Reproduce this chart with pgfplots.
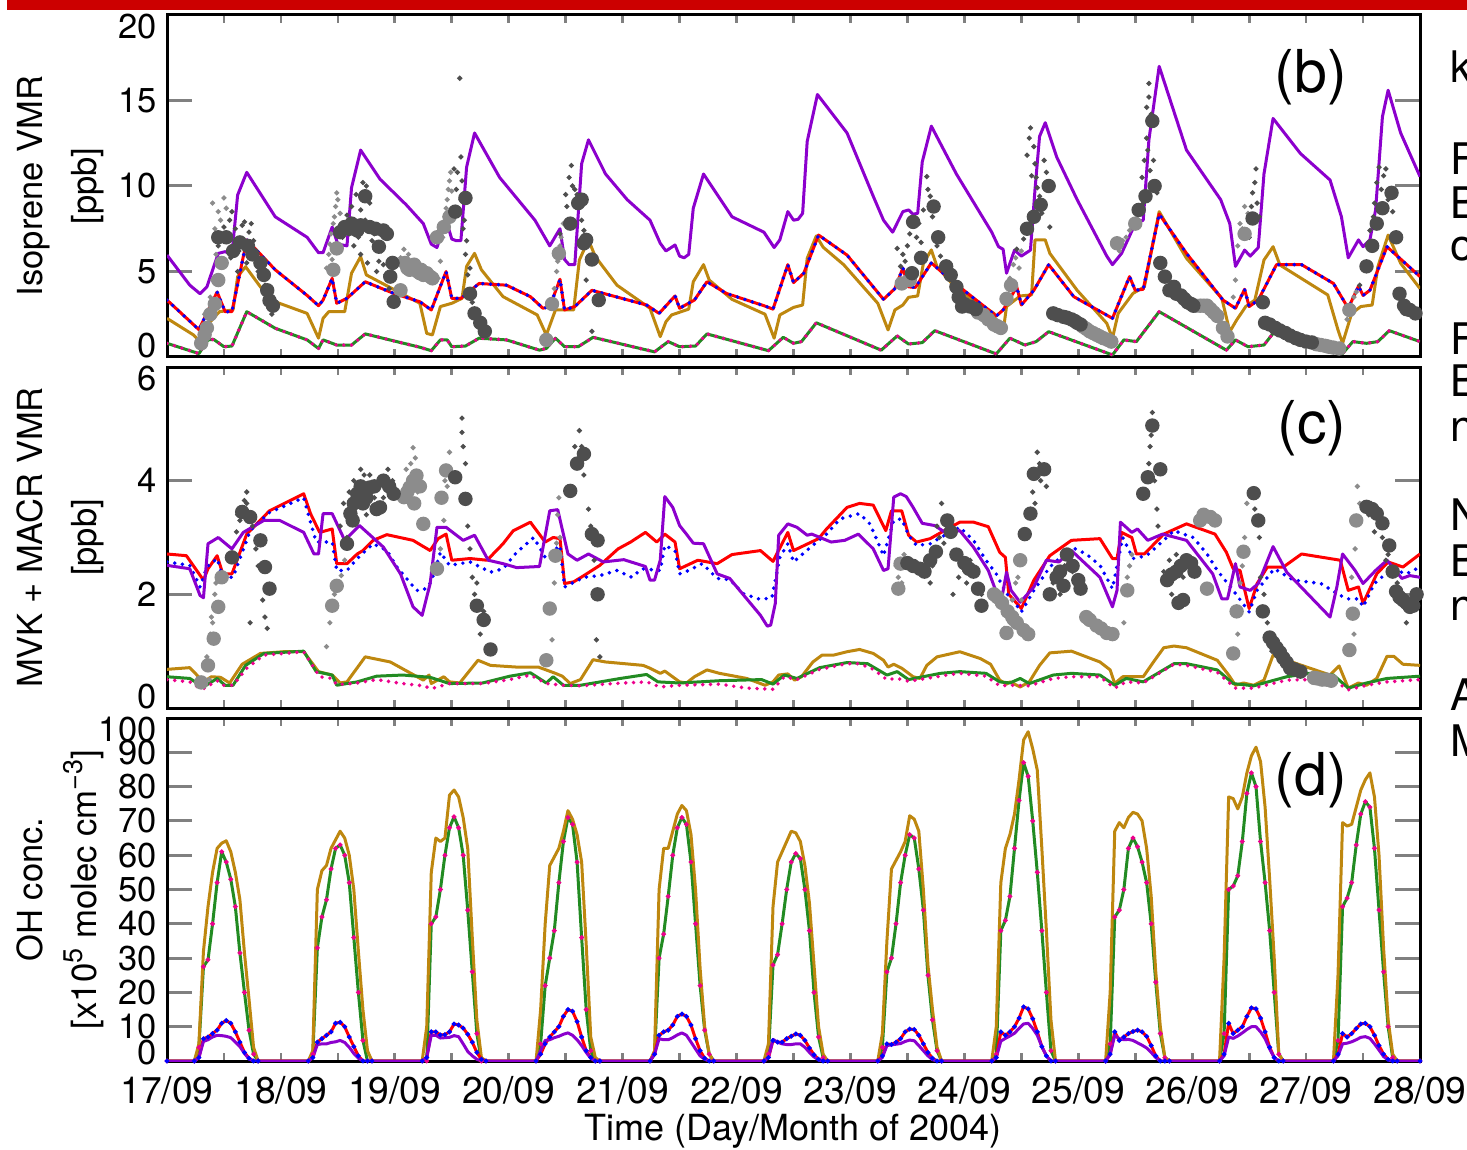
\documentclass[border=0pt]{standalone}
\usepackage{fontspec}
\setmainfont{TeX Gyre Heros}
\usepackage{pgfplots}
\usepackage{pgfplotstable}
\pgfplotsset{compat=1.18}

\definecolor{mpurple}{RGB}{140,0,205}
\definecolor{mgold}{RGB}{190,135,15}
\definecolor{mgreen}{RGB}{34,139,34}
\definecolor{dkgray}{RGB}{78,78,78}
\definecolor{ltgray}{RGB}{140,140,140}
\definecolor{barred}{RGB}{204,0,0}

\newcommand{\fs}{\fontsize{11.5}{13.8}\selectfont}
\newcommand{\fx}{\fontsize{12.4}{14.5}\selectfont}
\newcommand{\lo}[1]{\raisebox{3.7pt}[\height][\depth]{#1}}
\newcommand{\lod}[1]{\raisebox{2.7pt}[\height][\depth]{#1}}
\newcommand{\hi}[1]{\raisebox{-3.7pt}[\height][\depth]{#1}}
\newcommand{\upsc}[1]{\raisebox{0.42em}{\fontsize{9}{10}\selectfont #1}}

% ---------------- panel (b): isoprene ----------------
\pgfplotstableread{
x y
0 5.96
0.20 4.2
0.29 3.7
0.35 4.1
0.45 6.06
0.51 6.16
0.57 6.0
0.62 9.47
0.70 10.8
0.95 8.2
1.23 7.0
1.33 6.1
1.37 6.1
1.45 7.6
1.50 6.6
1.58 6.5
1.62 9.9
1.70 12.1
1.87 10.4
2.10 8.9
2.25 7.8
2.32 6.6
2.37 6.4
2.45 8.0
2.50 6.9
2.54 6.8
2.58 6.8
2.63 11.1
2.70 13.1
2.92 10.5
3.23 8.0
3.36 6.5
3.45 7.5
3.49 5.7
3.53 5.4
3.58 5.4
3.64 11.3
3.70 12.7
3.85 10.7
4.04 9.2
4.24 8.0
4.33 6.65
4.38 6.2
4.46 6.55
4.50 5.9
4.54 5.8
4.58 6.0
4.62 8.7
4.71 10.7
4.96 8.2
5.24 7.3
5.33 6.4
5.38 6.85
5.45 8.5
5.50 8.0
5.54 8.05
5.58 8.4
5.62 12.6
5.71 15.35
5.97 13.1
6.20 9.4
6.29 8.0
6.37 7.3
6.46 8.5
6.51 8.6
6.55 8.35
6.59 8.4
6.63 11.4
6.71 13.5
6.93 10.7
7.24 7.3
7.30 6.45
7.34 6.3
7.37 4.9
7.44 6.25
7.50 5.9
7.58 6.25
7.62 9.8
7.66 12.9
7.71 13.7
7.81 11.7
7.99 9.2
8.25 5.9
8.30 5.4
8.38 6.06
8.50 7.8
8.57 8.0
8.62 12.7
8.71 17.0
8.95 12.1
9.25 9.2
9.33 7.8
9.38 5.3
9.46 6.25
9.51 5.9
9.58 6.4
9.63 10.7
9.71 13.95
9.95 11.9
10.21 10.35
10.31 8.2
10.37 5.8
10.46 6.85
10.50 6.45
10.56 6.85
10.61 8.6
10.67 14.05
10.72 15.6
10.83 13.1
11.0 10.55
}\bPurple

\pgfplotstableread{
x y
0 3.33
0.28 1.6
0.44 3.8
0.51 2.65
0.57 2.65
0.70 6.85
0.95 5.1
1.23 3.6
1.33 3.0
1.37 3.33
1.45 4.6
1.49 3.14
1.58 3.43
1.74 4.4
1.99 3.72
2.22 3.23
2.32 2.75
2.45 5.0
2.50 3.43
2.58 3.43
2.74 4.3
2.98 4.2
3.19 3.53
3.30 2.85
3.36 2.95
3.45 4.55
3.49 2.75
3.58 2.95
3.73 3.9
4.21 3.04
4.32 2.55
4.46 3.57
4.50 2.85
4.63 3.33
4.74 4.4
4.91 3.72
5.24 3.0
5.32 2.8
5.45 5.4
5.50 4.35
5.59 4.9
5.72 7.13
5.97 5.96
6.29 3.37
6.39 4.0
6.46 5.2
6.51 4.1
6.57 4.07
6.71 5.5
6.90 4.4
7.28 2.4
7.34 2.75
7.46 4.1
7.50 3.04
7.61 3.9
7.74 5.4
7.96 3.53
8.30 2.26
8.45 4.7
8.50 3.9
8.57 3.96
8.71 8.36
8.95 6.06
9.27 3.33
9.38 2.85
9.46 3.96
9.50 2.95
9.58 3.33
9.74 5.4
9.96 5.4
10.24 4.3
10.37 2.85
10.46 4.15
10.50 3.6
10.56 3.9
10.71 6.45
11.0 4.7
}\bRed

\pgfplotstableread{
x y
0 2.26
0.23 1.3
0.29 0.9
0.38 2.06
0.46 2.65
0.58 2.75
0.62 4.7
0.69 5.28
0.82 4.1
0.95 3.23
1.23 2.55
1.33 1.1
1.37 2.26
1.42 2.65
1.56 2.65
1.62 4.9
1.70 5.87
1.75 4.8
2.22 3.14
2.28 1.38
2.33 1.29
2.40 2.95
2.50 3.14
2.59 3.43
2.63 5.3
2.70 6.06
2.76 5.1
2.95 3.53
3.25 2.46
3.33 1.29
3.41 2.75
3.57 2.75
3.62 5.67
3.70 6.85
3.76 5.87
3.95 4.2
4.24 2.85
4.33 1.19
4.38 2.06
4.43 2.46
4.58 2.8
4.62 4.4
4.71 5.4
4.76 4.5
4.96 3.37
5.25 2.5
5.33 1.1
5.38 2.46
5.50 2.9
5.58 3.04
5.62 5.77
5.70 7.08
5.76 6.42
5.94 5.4
6.24 3.14
6.33 1.58
6.39 2.75
6.46 3.04
6.51 3.49
6.59 3.57
6.64 5.48
6.71 6.26
6.76 5.28
6.93 4.0
7.26 2.55
7.30 1.48
7.34 1.48
7.37 2.95
7.49 3.57
7.59 3.63
7.62 6.85
7.71 6.85
7.75 6.06
7.99 3.9
8.25 1.97
8.30 1.1
8.35 2.55
8.48 3.72
8.58 4.1
8.71 8.5
8.95 5.77
9.26 3.43
9.33 1.48
9.39 2.16
9.47 2.95
9.55 3.33
9.63 5.67
9.71 6.45
9.77 5.38
10.19 3.63
10.28 1.58
10.32 0.8
10.40 2.55
10.48 2.95
10.58 3.04
10.63 5.28
10.72 7.13
10.83 5.48
11.0 4.0
}\bGold

\pgfplotstableread{
x y
0 0.8
0.28 0.2
0.36 1.0
0.41 1.03
0.50 0.6
0.57 0.64
0.70 2.65
0.95 1.68
1.23 1.0
1.33 0.5
1.37 1.0
1.49 0.7
1.62 0.7
1.74 1.35
2.22 0.57
2.32 0.37
2.40 1.0
2.46 1.0
2.50 0.6
2.62 0.64
2.74 1.1
2.98 1.0
3.27 0.4
3.33 0.5
3.41 1.1
3.49 0.6
3.61 0.6
3.74 1.15
4.28 0.3
4.40 0.9
4.50 0.6
4.64 0.64
4.74 1.35
5.28 0.37
5.41 1.15
5.50 0.8
5.57 0.9
5.70 2.0
6.27 0.4
6.41 1.23
6.51 0.76
6.63 0.84
6.74 1.54
7.28 0.18
7.40 1.1
7.53 0.7
7.63 0.9
7.74 1.48
8.30 0.12
8.40 1.0
8.51 0.9
8.71 2.65
9.30 0.4
9.38 1.0
9.49 0.6
9.63 0.7
9.71 1.38
10.32 0.2
10.41 0.9
10.53 0.8
10.63 0.9
10.73 1.54
11.0 0.9
}\bGreen

% measured isoprene: dark and light grey = the two inlets; large = averages
\pgfplotstableread{
x y
0.52 7.0
0.64 6.7
0.71 6.5
0.82 5.5
0.88 3.9
0.90 3.3
0.58 6.2
0.45 7.0
0.75 6.0
0.85 4.8
0.93 3.0
1.52 7.3
1.56 7.6
1.60 7.5
1.67 7.4
1.70 7.7
1.78 7.6
1.83 7.5
1.90 7.4
1.93 7.2
1.86 6.45
1.96 4.7
1.98 5.5
1.99 3.23
1.74 9.4
1.62 7.8
2.53 8.5
2.62 9.3
2.66 3.7
2.70 2.55
2.75 2.0
2.79 1.5
3.54 7.8
3.61 9.0
3.66 6.65
3.64 9.2
3.68 6.85
3.73 5.7
3.79 3.33
6.55 7.9
6.73 8.8
6.77 7.0
6.84 5.3
6.88 4.8
6.93 4.1
6.95 3.5
6.98 2.95
7.00 3.1
7.05 2.95
7.10 2.8
6.54 4.9
6.62 5.8
7.67 8.9
7.61 8.2
7.55 7.5
7.74 10.0
7.78 2.55
7.82 2.45
7.87 2.35
7.90 2.3
7.94 2.2
7.97 2.1
7.99 2.0
8.02 1.9
8.53 8.6
8.59 9.4
8.65 13.8
8.67 10.0
8.72 5.5
8.76 4.7
8.80 3.9
8.84 4.1
8.86 3.7
8.90 3.6
8.93 3.4
8.96 3.2
8.99 3.1
9.01 3.0
9.53 8.1
9.62 3.2
9.64 2.0
9.68 1.9
9.73 1.7
9.77 1.55
9.82 1.4
9.86 1.25
9.91 1.1
9.95 1.0
10.0 0.9
10.05 0.85
10.53 5.3
10.58 6.5
10.62 7.8
10.67 8.7
10.75 9.6
10.79 7.0
10.82 3.7
10.86 3.0
10.88 2.8
10.91 2.75
10.96 2.55
}\bDL

\pgfplotstableread{
x y
0.30 0.8
0.33 1.3
0.35 1.7
0.38 2.5
0.42 3.1
0.45 4.5
0.48 5.5
1.46 5.1
1.49 6.35
2.05 3.9
2.09 5.5
2.11 5.2
2.13 5.1
2.15 5.3
2.17 5.4
2.20 5.0
2.22 4.9
2.23 5.1
2.25 4.8
2.28 4.9
2.31 4.7
2.33 4.6
2.37 7.0
2.43 7.6
2.48 8.2
3.33 1.0
3.38 3.1
3.44 6.06
6.45 4.3
6.52 4.5
7.12 2.6
7.17 2.45
7.21 2.2
7.26 1.9
7.29 1.8
7.32 1.7
7.37 3.4
7.41 4.2
8.04 1.78
8.07 1.65
8.10 1.5
8.13 1.4
8.16 1.3
8.19 1.2
8.22 1.1
8.26 1.0
8.29 0.9
8.34 6.65
8.50 7.8
9.03 3.0
9.07 3.0
9.10 3.0
9.13 3.0
9.16 2.8
9.19 2.6
9.22 2.4
9.27 1.7
9.31 1.2
9.46 7.2
10.09 0.75
10.13 0.7
10.17 0.65
10.2 0.6
10.24 0.55
10.29 0.5
10.38 2.75
}\bLL

\pgfplotstableread{
x y
0.45 6.5
0.47 7.2
0.50 7.6
0.55 8.0
0.56 5.8
0.57 8.5
0.60 7.5
0.62 5.0
0.63 6.2
0.66 7.7
0.68 7.9
0.70 5.5
0.72 7.3
0.74 7.8
0.76 6.8
0.80 5.0
0.83 4.6
0.86 4.2
0.92 2.5
0.95 3.0
1.54 7.0
1.58 8.3
1.60 7.2
1.62 8.8
1.64 6.5
1.66 9.5
1.68 7.0
1.70 8.6
1.70 6.0
1.72 10.2
1.74 8.0
1.75 10.0
1.76 5.5
1.78 9.0
1.80 6.8
1.82 7.2
1.84 5.0
1.86 5.6
1.88 6.2
1.90 5.4
1.92 4.8
1.95 4.0
2.52 11.0
2.54 9.8
2.55 10.8
2.56 8.4
2.57 16.3
2.58 9.2
2.58 11.7
2.59 10.3
2.60 7.5
2.61 8.0
2.62 6.0
2.63 6.8
2.64 4.8
2.66 5.2
2.68 3.2
2.70 2.8
2.72 2.3
3.45 7.2
3.50 9.5
3.51 8.8
3.53 10.5
3.55 11.2
3.56 10.0
3.58 9.8
3.60 9.5
3.62 8.8
3.64 8.0
3.66 7.4
3.68 4.5
3.73 1.5
6.41 6.35
6.44 5.3
6.46 6.0
6.48 5.6
6.50 6.5
6.52 7.2
6.58 7.0
6.60 7.8
6.62 6.7
6.64 8.6
6.67 10.55
6.68 9.8
6.70 9.4
6.72 8.2
6.76 6.5
6.79 5.9
7.46 6.3
7.52 6.9
7.55 11.8
7.57 12.8
7.58 13.4
7.59 10.6
7.61 12.3
7.62 11.3
7.63 10.5
7.64 9.9
7.66 9.4
7.68 8.4
7.70 11.5
7.72 10.8
7.75 7.6
8.56 10.5
8.57 9.0
8.58 11.5
8.60 12.8
8.60 14.6
8.61 12.1
8.62 15.2
8.62 16.0
8.63 10.9
8.64 14.2
8.66 11.5
8.69 9.6
9.50 7.0
9.52 8.8
9.53 9.6
9.55 10.2
9.56 11.0
9.57 9.0
9.59 8.2
10.47 4.2
10.56 7.4
10.59 8.2
10.60 9.0
10.62 10.2
10.64 11.1
10.66 9.8
10.68 10.6
10.70 11.0
10.72 9.2
10.76 8.5
}\bDS

\pgfplotstableread{
x y
0.33 2.5
0.36 1.3
0.38 3.5
0.40 4.5
0.40 9.0
0.42 7.5
0.43 6.0
0.45 8.5
0.47 8.0
0.50 9.3
0.52 8.7
1.40 5.2
1.42 6.0
1.43 6.6
1.44 7.2
1.45 5.7
1.46 7.8
1.47 8.2
1.48 8.8
1.49 9.6
1.50 9.2
1.52 8.4
2.05 5.8
2.08 6.3
2.12 6.0
2.18 5.6
2.22 5.2
2.38 4.6
2.40 5.6
2.42 7.0
2.43 7.6
2.44 8.2
2.45 8.7
2.46 9.2
2.47 9.8
2.48 10.3
2.49 10.8
2.50 9.7
2.52 8.6
3.40 4.0
3.42 5.0
3.43 5.6
3.45 6.5
3.46 7.0
3.47 6.0
3.48 7.8
7.40 4.6
7.43 5.4
7.45 5.8
7.48 5.2
7.50 6.2
8.36 6.2
8.39 6.8
8.42 7.0
8.45 7.4
9.36 3.5
9.38 4.5
9.40 6.5
9.42 7.8
9.44 7.5
9.46 8.8
9.49 8.4
10.36 2.2
10.40 3.0
10.42 3.5
10.44 3.8
}\bLS

% ---------------- panel (c): MVK + MACR ----------------
\pgfplotstableread{
x y
0 2.71
0.17 2.68
0.32 2.25
0.36 2.45
0.44 2.68
0.49 2.36
0.57 2.36
0.70 3.06
0.90 3.47
1.20 3.77
1.26 3.42
1.34 3.09
1.45 3.15
1.49 2.54
1.58 2.54
1.67 2.71
1.72 2.77
1.81 2.95
1.93 3.05
2.16 2.95
2.31 2.77
2.38 2.98
2.45 3.06
2.50 2.6
2.66 2.63
2.81 2.6
2.95 2.89
3.04 3.12
3.19 3.27
3.32 2.92
3.39 3.0
3.45 2.98
3.49 2.19
3.57 2.22
3.66 2.33
3.80 2.51
3.96 2.8
4.07 2.92
4.20 3.09
4.30 2.92
4.37 3.06
4.46 2.92
4.50 2.45
4.66 2.6
4.83 2.54
4.96 2.7
5.21 2.77
5.32 2.58
5.45 3.09
5.50 2.77
5.72 2.98
5.79 3.15
5.97 3.53
6.08 3.6
6.20 3.57
6.31 3.12
6.36 3.47
6.45 3.47
6.51 3.04
6.58 2.92
6.70 2.98
6.85 3.15
6.96 3.27
7.08 3.27
7.21 3.19
7.31 2.74
7.36 2.65
7.39 2.0
7.50 1.75
7.61 2.25
7.75 2.68
7.94 2.95
8.19 2.98
8.30 2.63
8.34 2.63
8.38 3.09
8.47 3.0
8.51 2.71
8.58 2.71
8.75 3.06
8.95 3.24
9.20 3.06
9.30 2.74
9.36 2.45
9.42 2.42
9.50 1.75
9.57 2.19
9.66 2.48
9.80 2.48
9.96 2.71
10.30 2.6
10.37 2.07
10.46 2.13
10.50 1.84
10.62 2.36
10.72 2.57
10.85 2.48
11.0 2.71
}\cRed

\pgfplotstableread{
x y
0 2.57
0.20 2.51
0.29 2.13
0.35 2.48
0.44 2.63
0.49 2.3
0.58 2.3
0.73 3.12
0.90 3.44
1.20 3.7
1.26 3.27
1.31 2.92
1.45 2.92
1.49 2.42
1.58 2.42
1.67 2.63
1.81 2.89
1.93 2.77
2.02 2.48
2.19 2.07
2.25 2.07
2.32 2.22
2.40 2.74
2.48 2.51
2.66 2.57
2.84 2.39
2.95 2.45
3.07 2.74
3.22 3.0
3.32 2.65
3.45 2.86
3.49 2.13
3.66 2.3
3.80 2.33
3.95 2.42
4.08 2.3
4.17 2.45
4.33 2.42
4.37 2.86
4.46 2.77
4.50 2.36
4.58 2.42
4.70 2.54
4.83 2.28
4.94 2.26
5.06 2.01
5.21 1.91
5.31 1.94
5.38 2.65
5.45 2.89
5.50 2.57
5.65 2.83
5.79 3.06
5.91 3.33
6.08 3.42
6.17 3.24
6.24 2.92
6.29 2.68
6.38 3.3
6.45 3.33
6.51 3.04
6.58 2.86
6.70 2.89
6.79 3.0
6.96 3.18
7.08 2.95
7.19 2.6
7.28 2.36
7.37 2.01
7.41 1.95
7.50 1.69
7.61 2.07
7.75 2.48
7.94 2.83
8.07 2.71
8.19 2.51
8.30 2.1
8.39 3.0
8.48 2.63
8.60 2.68
8.75 2.95
8.84 3.12
9.01 3.0
9.13 2.71
9.22 2.42
9.36 2.07
9.50 1.69
9.57 2.07
9.72 2.45
9.89 2.25
10.13 2.19
10.30 1.98
10.37 1.92
10.46 1.92
10.50 1.78
10.60 2.19
10.75 2.45
10.88 2.36
11.0 2.48
}\cBlue

\pgfplotstableread{
x y
0 2.51
0.20 2.45
0.29 1.98
0.32 1.94
0.36 2.89
0.45 3.0
0.57 2.8
0.67 3.09
0.85 3.3
0.99 3.3
1.20 3.09
1.29 2.71
1.33 2.71
1.37 3.42
1.45 3.42
1.56 2.95
1.69 3.21
1.90 2.83
2.05 2.36
2.16 1.78
2.24 1.63
2.31 2.19
2.37 3.18
2.45 3.18
2.60 2.95
2.70 3.04
2.82 2.6
2.95 2.54
3.07 2.47
3.27 2.49
3.36 3.47
3.43 3.49
3.52 2.71
3.60 2.6
3.70 2.71
3.83 2.57
4.01 2.61
4.20 2.49
4.24 2.25
4.28 2.25
4.33 2.6
4.37 3.72
4.44 3.53
4.50 3.21
4.56 3.06
4.62 2.9
4.71 2.89
4.83 2.36
4.94 2.28
5.21 1.63
5.27 1.44
5.30 1.46
5.34 1.84
5.37 3.04
5.45 3.24
5.53 3.18
5.62 3.04
5.66 3.06
5.83 2.92
5.95 2.95
6.07 3.06
6.20 2.8
6.29 2.42
6.33 2.45
6.38 3.71
6.44 3.77
6.49 3.72
6.55 3.53
6.63 3.25
6.74 3.21
6.83 3.09
6.96 3.12
7.08 2.83
7.21 2.42
7.28 2.04
7.33 1.95
7.37 2.39
7.41 2.07
7.49 1.86
7.61 2.13
7.72 2.6
7.83 2.57
7.94 2.77
8.19 2.3
8.30 1.78
8.34 2.07
8.37 3.27
8.47 3.09
8.52 3.15
8.61 2.95
8.74 3.06
8.95 2.95
9.18 2.36
9.26 1.92
9.31 1.92
9.38 2.54
9.42 2.13
9.51 2.07
9.58 2.19
9.71 2.84
9.83 2.39
10.21 1.6
10.27 2.13
10.32 2.71
10.43 2.42
10.50 2.19
10.61 2.42
10.71 2.6
10.84 2.28
10.91 2.33
11.0 2.3
}\cPurple

\pgfplotstableread{
x y
0 0.68
0.20 0.71
0.32 0.46
0.39 0.55
0.47 0.54
0.55 0.44
0.66 0.77
0.82 0.96
1.02 0.99
1.20 0.99
1.33 0.64
1.45 0.58
1.52 0.44
1.58 0.46
1.74 0.9
1.96 0.81
2.25 0.49
2.30 0.58
2.32 0.43
2.43 0.55
2.48 0.46
2.57 0.44
2.73 0.84
2.84 0.75
3.07 0.72
3.26 0.72
3.41 0.61
3.47 0.56
3.54 0.43
3.63 0.5
3.74 0.85
3.85 0.81
4.18 0.75
4.24 0.7
4.33 0.61
4.37 0.65
4.50 0.46
4.56 0.44
4.63 0.55
4.74 0.67
4.85 0.61
5.09 0.52
5.25 0.4
5.32 0.46
5.37 0.58
5.45 0.6
5.51 0.49
5.57 0.55
5.67 0.81
5.75 0.93
5.85 0.93
5.97 0.99
6.08 1.03
6.20 0.96
6.29 0.84
6.33 0.72
6.38 0.77
6.45 0.7
6.55 0.55
6.61 0.52
6.67 0.75
6.76 0.9
6.96 0.99
7.14 0.87
7.23 0.77
7.31 0.49
7.37 0.42
7.40 0.46
7.49 0.37
7.57 0.46
7.66 0.75
7.75 0.97
7.94 1.0
8.19 0.81
8.28 0.67
8.32 0.43
8.39 0.55
8.57 0.55
8.66 0.81
8.75 1.06
8.84 1.09
8.95 1.06
9.22 0.84
9.32 0.58
9.38 0.4
9.45 0.44
9.54 0.4
9.63 0.49
9.71 0.93
9.83 0.84
10.21 0.58
10.29 0.74
10.37 0.35
10.46 0.44
10.53 0.4
10.62 0.52
10.71 0.91
10.77 0.91
10.85 0.77
11.0 0.75
}\cGold

\pgfplotstableread{
x y
0 0.55
0.20 0.52
0.32 0.37
0.44 0.52
0.51 0.4
0.58 0.4
0.69 0.75
0.85 0.96
1.20 1.0
1.31 0.64
1.45 0.58
1.49 0.4
1.67 0.46
1.84 0.56
2.07 0.58
2.31 0.54
2.48 0.43
2.77 0.44
3.01 0.56
3.19 0.62
3.33 0.44
3.39 0.55
3.48 0.4
3.63 0.4
3.98 0.52
4.21 0.59
4.31 0.46
4.50 0.44
4.85 0.48
5.22 0.5
5.32 0.42
5.42 0.58
5.53 0.52
5.73 0.71
5.97 0.8
6.15 0.78
6.32 0.58
6.41 0.64
6.51 0.5
6.79 0.61
6.96 0.64
7.19 0.61
7.31 0.46
7.40 0.44
7.49 0.52
7.57 0.43
7.78 0.58
7.94 0.61
8.19 0.58
8.32 0.4
8.42 0.52
8.57 0.46
8.84 0.78
8.95 0.78
9.22 0.67
9.36 0.43
9.54 0.39
9.83 0.55
10.03 0.61
10.24 0.58
10.37 0.35
10.53 0.44
10.71 0.52
11.0 0.56
}\cGreen

\pgfplotstableread{
x y
0 0.5
0.20 0.46
0.27 0.37
0.32 0.34
0.44 0.48
0.49 0.4
0.58 0.4
0.70 0.7
0.85 0.93
1.20 0.99
1.34 0.55
1.45 0.52
1.49 0.41
1.67 0.44
1.84 0.5
2.07 0.43
2.25 0.39
2.32 0.34
2.48 0.43
2.77 0.43
3.01 0.5
3.19 0.58
3.33 0.43
3.48 0.4
3.63 0.39
3.92 0.43
4.21 0.46
4.33 0.37
4.50 0.4
4.85 0.42
5.09 0.35
5.32 0.33
5.42 0.55
5.53 0.5
5.73 0.68
5.97 0.78
6.08 0.78
6.20 0.68
6.32 0.5
6.41 0.52
6.51 0.47
6.85 0.58
6.96 0.61
7.19 0.56
7.31 0.39
7.40 0.4
7.57 0.39
7.78 0.52
7.94 0.55
8.19 0.55
8.32 0.35
8.42 0.46
8.57 0.44
8.84 0.77
8.95 0.75
9.22 0.63
9.38 0.35
9.54 0.35
9.83 0.49
10.03 0.5
10.24 0.49
10.37 0.32
10.53 0.4
10.71 0.46
11.0 0.5
}\cMagenta

\pgfplotstableread{
x y
0.57 2.65
0.66 3.45
0.73 3.36
0.82 2.95
0.86 2.48
0.90 2.1
1.58 2.89
1.61 3.42
1.63 3.3
1.64 3.6
1.67 3.77
1.70 3.9
1.72 3.6
1.75 3.7
1.78 3.88
1.82 3.9
1.84 3.5
1.87 3.53
1.90 4.0
1.95 3.9
1.99 3.77
2.53 4.06
2.62 3.68
2.72 1.8
2.78 1.55
2.84 1.03
3.54 3.82
3.60 4.3
3.66 4.47
3.73 3.06
3.78 2.95
3.78 2.0
6.50 2.55
6.55 2.5
6.61 2.45
6.65 2.4
6.70 2.6
6.75 2.75
6.85 3.3
6.88 3.1
6.93 2.7
7.0 2.55
7.04 2.45
7.08 2.4
7.12 2.1
7.15 1.8
7.53 3.06
7.58 3.42
7.61 4.12
7.70 4.2
7.75 2.0
7.81 2.3
7.84 2.4
7.87 2.15
7.90 2.7
7.95 2.5
8.0 2.25
8.02 2.1
8.57 3.77
8.61 4.06
8.65 4.97
8.72 4.2
8.78 2.25
8.82 2.35
8.86 2.4
8.88 1.85
8.90 2.5
8.92 1.9
8.95 2.6
8.99 2.55
9.02 2.4
9.54 3.78
9.58 3.3
9.62 1.7
9.68 1.24
9.71 1.15
9.74 1.06
9.77 0.98
9.80 0.88
9.83 0.8
9.86 0.7
9.90 0.68
9.95 0.64
10.53 3.54
10.58 3.5
10.62 3.42
10.67 3.25
10.73 2.86
10.76 2.4
10.79 2.05
10.82 1.95
10.85 1.9
10.88 1.85
10.91 1.78
10.94 1.8
10.97 2.0
}\cDL

\pgfplotstableread{
x y
0.30 0.45
0.36 0.75
0.41 1.22
0.45 1.78
0.48 2.3
1.45 1.8
1.49 2.15
2.08 3.71
2.11 3.8
2.13 3.88
2.16 4.0
2.17 3.6
2.19 4.09
2.22 3.9
2.25 3.24
2.37 2.45
2.41 3.7
2.45 4.18
3.33 0.84
3.36 1.75
3.41 2.68
6.42 2.1
6.44 2.54
7.26 2.0
7.29 1.95
7.33 1.85
7.37 1.32
7.38 1.7
7.42 1.6
7.46 1.5
7.49 2.6
7.52 1.37
7.56 1.3
8.07 1.6
8.10 1.55
8.16 1.45
8.20 1.4
8.25 1.32
8.30 1.3
8.43 2.07
9.07 3.3
9.10 3.4
9.13 2.1
9.16 3.36
9.20 3.3
9.36 0.96
9.39 1.7
9.45 2.75
10.07 0.53
10.10 0.52
10.14 0.5
10.18 0.5
10.22 0.48
10.38 1.02
10.41 1.66
10.44 3.3
}\cLL

\pgfplotstableread{
x y
0.61 3.1
0.62 3.4
0.64 3.3
0.66 3.5
0.68 3.65
0.70 3.8
0.70 3.6
0.73 1.5
0.75 3.2
0.78 2.8
0.80 2.5
0.84 1.9
0.86 1.6
0.88 1.4
1.52 3.2
1.55 3.6
1.58 3.0
1.60 3.8
1.64 4.0
1.66 3.8
1.70 4.2
1.73 4.1
1.75 3.4
1.78 4.1
1.82 3.7
1.86 3.9
1.90 3.7
1.94 4.2
1.98 4.0
2.59 5.1
2.59 4.85
2.60 4.6
2.62 4.3
2.64 3.2
2.66 2.8
2.68 2.3
2.70 2.0
2.72 2.2
2.75 1.3
2.78 1.7
3.58 4.6
3.62 4.88
3.63 4.3
3.64 4.6
3.66 4.1
3.70 3.5
3.72 3.2
3.75 2.6
3.77 1.2
3.80 0.9
6.70 2.2
6.72 2.5
6.76 3.2
6.78 3.0
6.80 3.6
6.82 2.9
6.90 2.0
6.95 2.3
7.02 2.2
7.05 2.6
7.10 2.1
7.15 2.0
7.60 3.8
7.62 3.6
7.64 4.5
7.66 4.3
7.67 4.0
7.72 3.9
7.78 2.2
7.84 2.0
7.88 2.5
7.95 2.4
8.62 4.3
8.63 4.6
8.64 4.8
8.65 5.2
8.67 4.0
8.69 3.5
8.70 3.2
8.75 2.4
8.80 2.6
8.82 2.0
8.86 2.7
8.92 2.3
9.55 3.5
9.57 3.8
9.59 3.0
9.60 2.3
9.63 2.0
9.66 1.5
9.70 1.0
10.55 3.4
10.57 3.6
10.60 3.1
10.64 3.3
10.67 3.0
10.70 2.6
10.72 2.7
10.80 2.2
10.88 1.5
10.92 1.7
}\cDS

\pgfplotstableread{
x y
0.35 0.9
0.37 0.5
0.38 1.3
0.39 1.6
0.40 1.5
0.42 2.0
0.43 2.2
1.40 1.08
1.43 1.5
1.47 2.0
1.50 2.2
1.53 2.33
1.56 2.6
2.10 4.2
2.14 4.3
2.16 4.58
2.18 4.4
2.20 3.8
2.40 2.8
2.43 3.3
2.44 4.0
2.46 3.9
2.48 4.5
3.38 1.2
3.40 2.2
3.42 2.9
3.43 3.4
3.44 3.7
3.45 3.0
6.40 2.5
6.42 2.3
6.45 2.2
6.47 2.7
7.35 1.4
7.40 1.5
7.42 1.9
7.45 2.2
7.47 2.3
7.50 1.9
8.40 1.5
8.43 2.3
8.45 2.5
8.47 2.7
9.40 1.3
9.42 2.2
9.44 2.5
9.46 3.0
9.48 3.6
10.40 2.3
10.42 1.3
10.43 2.8
10.45 3.9
10.47 3.6
}\cLS

% ---------------- panel (d): OH ----------------
\pgfplotstableread{
x gold green red purple
0 0 0 0 0
0.24 0 0 0 0
0.28 5 4 1 1
0.32 32 27.5 6.5 5.7
0.36 45 29.5 7 6.2
0.40 55 40 8 7
0.44 62 52 9 7.5
0.48 63.5 61 11 7.4
0.52 64.2 58 11.8 7.2
0.56 61 53 11 6.8
0.60 55 45 8.5 5.5
0.64 47 31.5 5.5 4.2
0.68 31.5 20 2.5 2.2
0.72 18 9 0.8 0.6
0.76 4 2 0 0
0.80 0 0 0 0
1.24 0 0 0 0
1.28 3 2 1 1
1.32 50 33 5.5 4.8
1.36 55.5 42 6.5 5
1.40 57 47 7.5 5
1.44 62 56 8.5 5.4
1.48 64.5 62 11 5.6
1.52 67 63 11.3 6
1.56 65 60 10 5.4
1.60 60 52 7 4
1.64 50 36 4.2 2.2
1.68 32 20 1.5 0.8
1.72 15 6 0 0
1.76 3 0 0 0
1.80 0 0 0 0
2.24 0 0 0 0
2.28 10 0 1 1
2.32 55 40 8.5 7.5
2.36 65 42 8.5 7.5
2.40 64 50 7.6 6.7
2.44 65 60 7.7 6.8
2.48 77.5 68 8.5 6.9
2.52 79 71.2 10.8 7.4
2.56 77 68 10.5 7.1
2.60 71 60 9.6 5
2.64 62 44 7.8 2.8
2.68 36 26 5.5 1.5
2.72 12 8 2.5 0.5
2.76 1 0 0.5 0
2.80 0 0 0 0
3.24 0 0 0 0
3.28 15 5 2 3
3.32 40 22 5 6
3.36 57 30 7 6.2
3.40 59.5 38 8.5 6.8
3.44 62 52 10 7.2
3.48 67 64 13 7.8
3.52 73 71 15 8.2
3.56 70.5 69 14.5 7.5
3.60 66 58 11.5 6.2
3.64 58 36 7 4.5
3.68 34 15 3 2.5
3.72 7 3 1 0.8
3.76 1 0 0 0
3.80 0 0 0 0
4.24 0 0 0 0
4.28 3 2 2 2
4.32 50 30 7.5 6.5
4.36 62 37 8.5 6.2
4.40 62 48 9 6.2
4.44 67 60 10.5 6.8
4.48 72 68 13 7.6
4.52 74.5 71 13.7 8.2
4.56 73 69 13 7.5
4.60 66 58 10.5 5.5
4.64 50 40 6.5 3.5
4.68 27 22 3 1.5
4.72 10 9 0.8 0.5
4.76 2 2 0 0
4.80 0 0 0 0
5.24 0 0 0 0
5.28 5 2 1 1
5.32 45 28 6 6.3
5.36 58 31 5.5 5.5
5.40 61 40 5.5 5
5.44 64 50 6.5 4.8
5.48 67 58 7.2 4.8
5.52 66.5 60.5 7.9 5
5.56 64 59 7.5 5
5.60 57 50 6 4
5.64 46 38 3.8 2.5
5.68 28 20 1.8 1.2
5.72 10 7 0.5 0.3
5.76 2 1 0 0
5.80 0 0 0 0
6.24 0 0 0 0
6.28 8 4 1.5 1
6.32 35 26 5 4.5
6.36 56 30 4.8 4.7
6.40 58.5 40 5.5 4.9
6.44 61 52 6.5 5.1
6.48 64 60 8.5 5.7
6.52 71.5 66 9.3 6.1
6.56 70.5 65 9.2 5.9
6.60 67 56 7.5 4.5
6.64 50 44 5 3
6.68 28 25 2.5 1.5
6.72 15 12 0.8 0.4
6.76 4 3 0 0
6.80 0 0 0 0
7.24 0 0 0 0
7.28 10 2 1 1
7.32 52 38 8.5 5.8
7.36 62 41 7.5 6.6
7.40 66 48 8.5 7.3
7.44 72 62 10 8.1
7.48 82 76 12.5 9.5
7.52 93.6 87 15.8 10.8
7.56 96 83 15.2 11
7.60 91 70 12.3 9.5
7.64 84.8 55 8.5 7.5
7.68 62 38 4.2 4.2
7.72 38 20 1.5 1.5
7.76 12 3 0 0
7.80 0 0 0 0
8.24 0 0 0 0
8.28 20 5 2 2
8.32 67 42 8.5 7.5
8.36 69.5 44 6 6.5
8.40 68 50 7 6.2
8.44 71 62 8 6.3
8.48 72.5 65 8.6 6
8.52 72 62.5 9 5.3
8.56 70 58 8.5 4.6
8.60 62 52 7.2 3.8
8.64 48 40 4.5 2.5
8.68 26 23 1.5 1
8.72 10 8 0 0
8.76 1 1 0 0
8.80 0 0 0 0
9.24 0 0 0 0
9.28 30 8 2 1.5
9.32 77 50 11 7
9.36 76.5 51 8 6.6
9.40 73.5 54 9 7.3
9.44 77 64 10 8.2
9.48 84 78 13 9.2
9.52 89 84 15.5 10
9.56 91.5 80 15.2 10
9.60 87.3 64 12.5 8.5
9.64 74 52 8.5 6.5
9.68 53 38 4 3.5
9.72 30 20 1 1
9.76 2 2 0 0
9.80 0 0 0 0
10.24 0 0 0 0
10.28 25 6 2 1.5
10.32 69.5 45 8 5
10.36 68.5 47.5 7 5.2
10.40 69 52 8 5.6
10.44 74 63 9.5 6.2
10.48 79 72 10.8 6.9
10.52 82 75.6 11 7.1
10.56 84 74 10 6.6
10.60 77 62 7.5 5
10.64 60 44 4.5 3.2
10.68 33 26 2 1.3
10.72 12 10 0.5 0.3
10.76 2 1 0 0
10.80 0 0 0 0
11 0 0 0 0
}\dOH

\pgfplotsset{
  panel/.style={
    scale only axis, width=417.667pt, anchor=south west,
    xmin=0, xmax=11, xtick={0,...,11}, minor x tick num=1,
    tick pos=both, tick align=inside,
    major tick length=8.33pt, minor tick length=2.6pt,
    xtick style={line width=0.9pt, /pgfplots/major tick length=2.6pt},
    minor x tick style={line width=0.9pt},
    ytick style={line width=1pt},
    axis line style={line width=1pt},
    tick label style={font=\fs},
    xticklabels={},
  },
  mline/.style={line width=1pt, no markers, line join=round},
  dotline/.style={line width=1.3pt, no markers, dash pattern=on 0pt off 2.6pt, line cap=round},
  dk/.style={only marks, mark=*, color=dkgray, mark size=#1},
  lt/.style={only marks, mark=*, color=ltgray, mark size=#1},
  ohdot/.style={only marks, mark=*, mark size=0.6pt, color=#1},
}

\begin{document}
\begin{tikzpicture}
\useasboundingbox (0,0) rectangle (489pt,383pt);
\clip (0,0) rectangle (489pt,383pt);
\fill[barred] (2.333pt,379.667pt) rectangle (489pt,383pt);

% (b) isoprene
\begin{axis}[panel, at={(55.667pt,264pt)}, height=114pt,
  ymin=0, ymax=20, ytick={0,5,10,15,20},
  yticklabels={\lo{0},5,10,15,\hi{20}}]
\addplot[lt=0.65pt] table {\bLS};
\addplot[dk=0.65pt] table {\bDS};
\addplot[lt=2.2pt] table {\bLL};
\addplot[dk=2.2pt] table {\bDL};
\addplot[mline, mpurple] table {\bPurple};
\addplot[mline, mgold] table {\bGold};
\addplot[mline, red] table {\bRed};
\addplot[dotline, blue] table {\bRed};
\addplot[mline, mgreen] table {\bGreen};
\addplot[dotline, magenta] table {\bGreen};
\end{axis}

% (c) MVK + MACR
\begin{axis}[panel, at={(55.667pt,147pt)}, height=113.667pt,
  ymin=0, ymax=6, ytick={0,2,4,6},
  yticklabels={\lo{0},2,4,\hi{6}}]
\addplot[lt=0.65pt] table {\cLS};
\addplot[dk=0.65pt] table {\cDS};
\addplot[lt=2.2pt] table {\cLL};
\addplot[dk=2.2pt] table {\cDL};
\addplot[mline, mgold] table {\cGold};
\addplot[mline, mgreen] table {\cGreen};
\addplot[dotline, magenta] table {\cMagenta};
\addplot[mline, red] table {\cRed};
\addplot[dotline, blue] table {\cBlue};
\addplot[mline, mpurple] table {\cPurple};
\end{axis}

% (d) OH
\begin{axis}[panel, at={(55.667pt,29.333pt)}, height=114.333pt,
  ymin=0, ymax=100, ytick={0,10,...,100},
  yticklabels={\lod{0},10,20,30,40,50,60,70,80,90,\hi{100}},
  xticklabels={17/09,18/09,19/09,20/09,21/09,22/09,23/09,24/09,25/09,26/09,27/09,28/09},
  xticklabel style={font=\fx, yshift=-1.6pt}]
\addplot[mline, mgreen] table[x=x, y=green] {\dOH};
\addplot[ohdot=magenta] table[x=x, y=green] {\dOH};
\addplot[mline, mgold] table[x=x, y=gold] {\dOH};
\addplot[mline, red] table[x=x, y=red] {\dOH};
\addplot[ohdot=blue] table[x=x, y=red] {\dOH};
\addplot[mline, mpurple] table[x=x, y=purple] {\dOH};
\end{axis}

% axis titles
\begin{scope}[every node/.style={font=\fs, inner sep=0pt}]
\node[rotate=90, anchor=base] at (14pt,321pt) {Isoprene VMR};
\node[rotate=90, anchor=base] at (32.33pt,321pt) {[ppb]};
\node[rotate=90, anchor=base] at (14pt,203.83pt) {MVK + MACR VMR};
\node[rotate=90, anchor=base] at (32.33pt,203.83pt) {[ppb]};
\node[rotate=90, anchor=base] at (14pt,86.5pt) {OH conc.};
\node[rotate=90, anchor=base, font=\fontsize{11.6}{14}\selectfont] at (32.33pt,86.5pt) {[x10\upsc{5} molec cm\upsc{\char"2212 3}]};
\node[anchor=base, font=\fontsize{12}{14}\selectfont] at (264.33pt,3pt) {Time (Day/Month of 2004)};
\end{scope}

% panel letters
\begin{scope}[every node/.style={font=\fontsize{19.7}{23}\selectfont, inner sep=0pt}]
\node at (437pt,357.33pt) {(b)};
\node at (437.33pt,240.33pt) {(c)};
\node at (437pt,123pt) {(d)};
\end{scope}

% caption text running in from the right margin
\begin{scope}[every node/.style={font=\fontsize{14.5}{16}\selectfont, inner sep=0pt, anchor=base west}]
\node at (483.33pt,355.33pt) {k};
\node at (483.33pt,324.67pt) {F};
\node at (483.33pt,310.33pt) {B};
\node at (483.33pt,296.33pt) {o};
\node at (483.33pt,264.67pt) {F};
\node at (483.33pt,250.67pt) {B};
\node at (483.33pt,235.67pt) {n};
\node at (483.33pt,206.33pt) {N};
\node at (483.33pt,190.67pt) {B};
\node at (483.33pt,176.33pt) {n};
\node at (483.33pt,146.33pt) {A};
\node at (483.33pt,130.67pt) {M};
\end{scope}
\end{tikzpicture}
\end{document}
